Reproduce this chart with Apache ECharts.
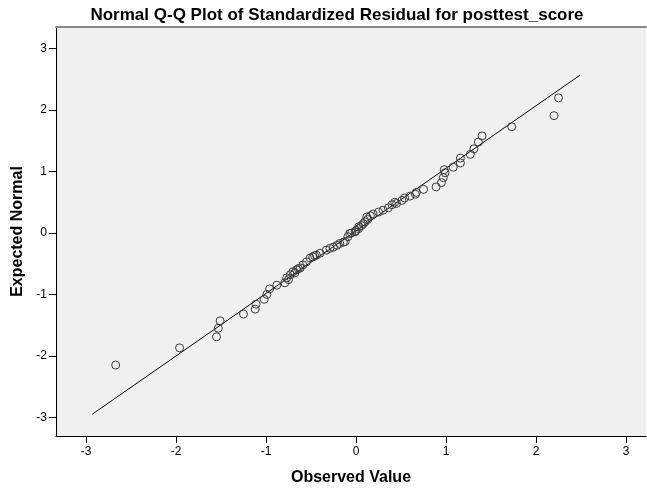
<!DOCTYPE html>
<html>
<head>
<meta charset="utf-8">
<script src="https://cdn.jsdelivr.net/npm/echarts@6/dist/echarts.min.js"></script>
<style>
html,body{margin:0;padding:0;background:#fff;}
#chart{width:647px;height:491px;}
</style>
</head>
<body>
<div id="chart"></div>
<script>
// Observed values (standardized residuals) and expected normal quantiles
const observed = [-2.67,-1.96,-1.55,-1.53,-1.51,-1.25,-1.12,-1.11,-1.02,-0.99,-0.96,-0.88,-0.79,-0.77,-0.73,-0.70,-0.66,-0.62,-0.59,-0.55,-0.51,-0.46,-0.40,-0.33,-0.29,-0.21,-0.18,-0.12,-0.09,-0.07,-0.01,0.03,0.06,0.10,0.12,0.16,0.19,0.25,0.30,0.36,0.40,0.43,0.51,0.54,0.66,0.67,0.75,0.89,0.95,0.97,0.99,0.98,1.08,1.16,1.16,1.27,1.31,1.36,1.40,1.73,2.20,2.25,
  -0.75,-0.68,-0.64,-0.48,-0.44,-0.25,-0.14,-0.05,0.00,0.03,0.08,0.13,0.45,0.60];
const expected = [-2.15,-1.87,-1.69,-1.55,-1.43,-1.32,-1.24,-1.16,-1.08,-1.00,-0.91,-0.85,-0.81,-0.73,-0.68,-0.63,-0.60,-0.57,-0.52,-0.47,-0.41,-0.37,-0.33,-0.28,-0.25,-0.20,-0.17,-0.14,-0.06,-0.01,0.02,0.07,0.12,0.18,0.26,0.28,0.31,0.34,0.37,0.41,0.46,0.50,0.53,0.57,0.63,0.66,0.71,0.75,0.82,0.90,0.98,1.03,1.07,1.14,1.22,1.28,1.37,1.48,1.58,1.73,1.91,2.20,
  -0.76,-0.65,-0.58,-0.39,-0.36,-0.23,-0.15,0.00,0.04,0.10,0.15,0.22,0.48,0.60];
// Reference line end points
const refLineX = [-2.93, 2.49];
const refLineY = [-2.95, 2.57];
// Tick labels
const ticks = [-3,-2,-1,0,1,2,3];
const titleText = 'Normal Q-Q Plot of Standardized Residual for posttest_score';
const xName = 'Observed Value';
const yName = 'Expected Normal';

const points = observed.map((v, i) => [v, expected[i]]);
const linePts = refLineX.map((v, i) => [v, refLineY[i]]);

const chart = echarts.init(document.getElementById('chart'), null, {renderer: 'canvas'});
const font = 'Arial, "Liberation Sans", sans-serif';
chart.setOption({
  animation: false,
  backgroundColor: '#ffffff',
  title: {
    text: titleText,
    left: 332, top: 2, textAlign: 'center',
    textStyle: {fontFamily: font, fontSize: 17, fontWeight: 'bold', color: '#000'}
  },
  grid: {
    left: 56, top: 27, right: 1, bottom: 49,
    show: true, backgroundColor: '#F0F0F0', borderWidth: 0
  },
  xAxis: [{
    type: 'value', min: -3.333, max: 3.222,
    name: xName, nameLocation: 'middle', nameGap: 34,
    nameTextStyle: {fontFamily: font, fontSize: 16, fontWeight: 'bold', color: '#000'},
    axisLine: {show: true, onZero: false, lineStyle: {color: '#000', width: 1}},
    axisTick: {show: true, length: 7, customValues: ticks, lineStyle: {color: '#000'}},
    axisLabel: {customValues: ticks, fontFamily: font, fontSize: 12, color: '#000', margin: 10},
    splitLine: {show: false}
  }, {
    type: 'value', position: 'top', min: -3.333, max: 3.222,
    axisLine: {show: true, onZero: false, lineStyle: {color: '#8a8a8a', width: 2}},
    axisTick: {show: false}, axisLabel: {show: false}, splitLine: {show: false}
  }],
  yAxis: {
    type: 'value', min: -3.305, max: 3.353,
    name: yName, nameLocation: 'middle', nameGap: 30, nameRotate: 90,
    nameTextStyle: {fontFamily: font, fontSize: 16, fontWeight: 'bold', color: '#000'},
    axisLine: {show: true, onZero: false, lineStyle: {color: '#000', width: 1}},
    axisTick: {show: true, length: 7, customValues: ticks, lineStyle: {color: '#000'}},
    axisLabel: {customValues: ticks, fontFamily: font, fontSize: 12, color: '#000', margin: 9},
    splitLine: {show: false}
  },
  series: [{
    type: 'line', data: linePts, showSymbol: false, symbol: 'none',
    lineStyle: {color: '#000', width: 1}, silent: true, z: 2
  }, {
    type: 'scatter', data: points, symbol: 'circle', symbolSize: 8,
    itemStyle: {color: 'rgba(0,0,0,0)', borderColor: '#3a3a3a', borderWidth: 1, opacity: 1},
    z: 3
  }]
});
</script>
</body>
</html>
